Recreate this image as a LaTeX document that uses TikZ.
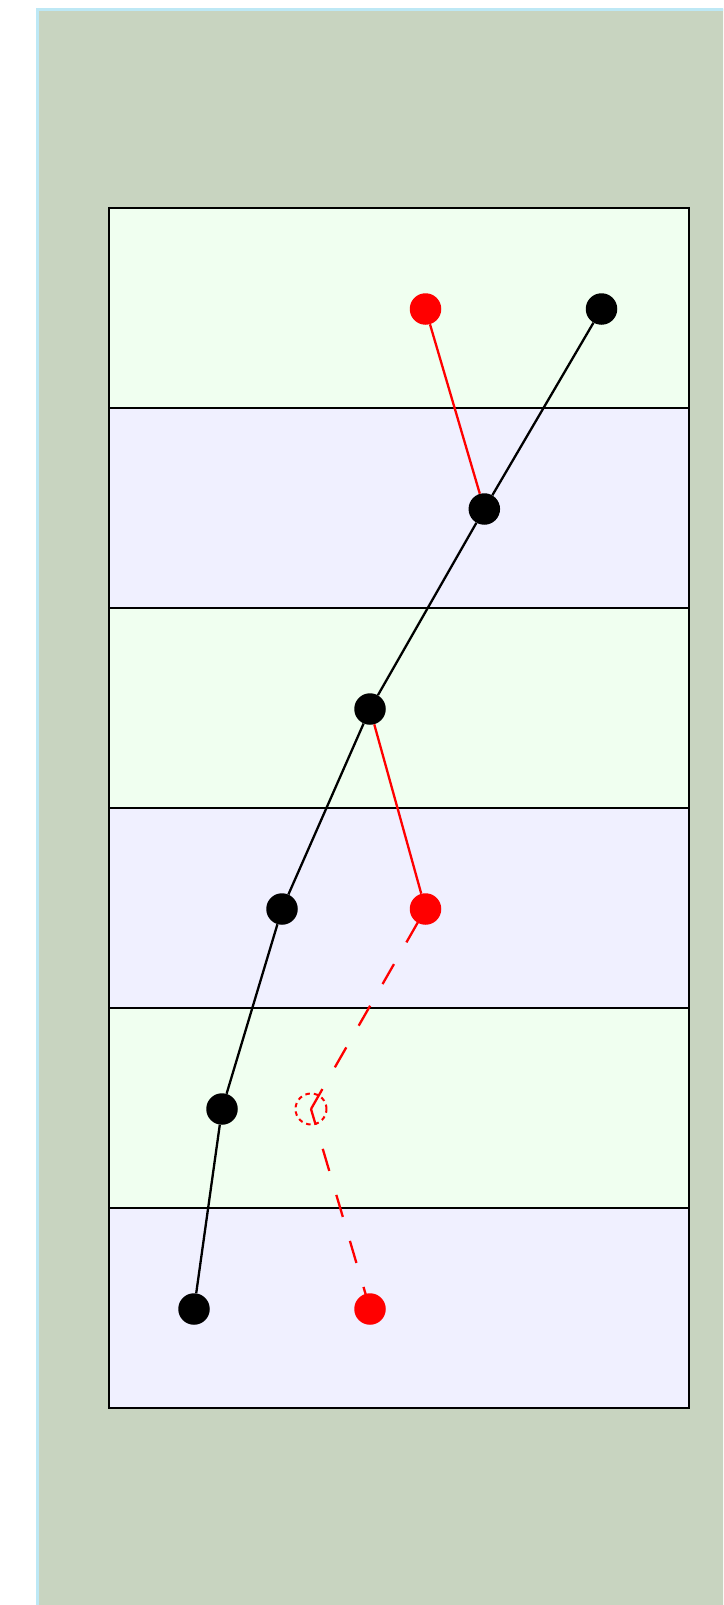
\documentclass[tikz,border=0pt]{standalone}
\definecolor{bordercol}{RGB}{189,232,245}
\definecolor{bgcol}{RGB}{200,212,192}
\definecolor{bandA}{RGB}{240,255,240}
\definecolor{bandB}{RGB}{240,240,255}
\tikzset{
  player/.style={circle, fill=black, minimum size=31.5pt, inner sep=0pt},
  redplayer/.style={player, fill=red},
  ghostplayer/.style={circle, draw=red, line width=2pt, dash pattern=on 4.5pt off 4pt, minimum size=31pt, inner sep=0pt},
  courtline/.style={line width=2.3pt, black},
  blackpass/.style={line width=2.3pt, black},
  redpass/.style={line width=2.3pt, red},
  redmove/.style={line width=2.3pt, red, dash pattern=on 23pt off 25pt}
}
\begin{document}
\begin{tikzpicture}[x=1pt,y=-1pt]
\useasboundingbox (0,0) rectangle (723,1605);
\clip (0,0) rectangle (723,1605);
\fill[white] (0,0) rectangle (723,1605);
\draw[line width=3pt, draw=bordercol, fill=bgcol] (37.5,9.5) rectangle (760,1640);
% bands
\fill[bandA] (109,208) rectangle (689,408);
\fill[bandB] (109,408) rectangle (689,608);
\fill[bandA] (109,608) rectangle (689,808);
\fill[bandB] (109,808) rectangle (689,1008);
\fill[bandA] (109,1008) rectangle (689,1208);
\fill[bandB] (109,1208) rectangle (689,1408);
% court lines
\draw[courtline] (109,208) -- (689,208);
\draw[courtline] (109,408) -- (689,408);
\draw[courtline] (109,608) -- (689,608);
\draw[courtline] (109,808) -- (689,808);
\draw[courtline] (109,1008) -- (689,1008);
\draw[courtline] (109,1208) -- (689,1208);
\draw[courtline] (109,1408) -- (689,1408);
\draw[courtline] (109,207) -- (109,1409);
\draw[courtline] (689,207) -- (689,1409);
% players
\node[player] (b1) at (601.5,309) {};
\node[player] (b2) at (484.3,509) {};
\node[player] (b3) at (370,709) {};
\node[player] (b4) at (282,909) {};
\node[player] (b5) at (222,1109) {};
\node[player] (b6) at (194,1309) {};
\node[redplayer] (r1) at (425.5,309) {};
\node[redplayer] (r2) at (425.5,909) {};
\node[redplayer] (r3) at (370,1309) {};
\node[ghostplayer] (g) at (311,1109) {};
% connectors
\draw[blackpass] (b1) -- (b2);
\draw[blackpass] (b2) -- (b3);
\draw[blackpass] (b3) -- (b4);
\draw[blackpass] (b4) -- (b5);
\draw[blackpass] (b5) -- (b6);
\draw[redpass] (r1) -- (b2);
\draw[redpass] (r2) -- (b3);
\draw[redmove] (g.center) -- (r2.center);
\draw[redmove] (r3.center) -- (g.center);
\end{tikzpicture}
\end{document}
